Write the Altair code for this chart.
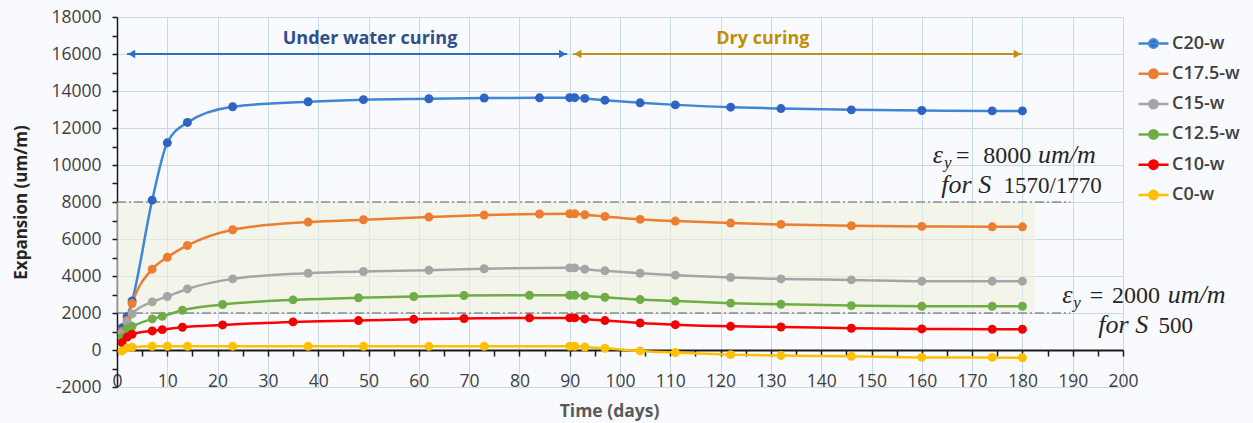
import altair as alt
import pandas as pd

SANS = "Open Sans"
SERIF = "Liberation Serif"

# ---- series -------------------------------------------------------------
series_names = ["C20-w", "C17.5-w", "C15-w", "C12.5-w", "C10-w", "C0-w"]
line_colors = ["#3f87d4", "#ed7d31", "#a5a5a5", "#70ad47", "#ff0000", "#ffc000"]
marker_colors = ["#2f63c4", "#ed7d31", "#a5a5a5", "#70ad47", "#f00000", "#ffc000"]

days_c20 = [1, 2, 3, 7, 10, 14, 23, 38, 49, 62, 73, 84, 90, 91, 93, 97, 104, 111, 122, 132, 146, 160, 174, 180]
vals_c20 = [1200, 1800, 2650, 8100, 11200, 12300, 13150, 13420, 13530, 13580, 13620, 13630, 13640, 13640,
            13600, 13505, 13360, 13250, 13125, 13050, 12980, 12945, 12925, 12925]

days_c175 = [1, 2, 3, 7, 10, 14, 23, 38, 49, 62, 73, 84, 90, 91, 93, 97, 104, 111, 122, 132, 146, 160, 174, 180]
vals_c175 = [1000, 1600, 2510, 4370, 5010, 5650, 6500, 6915, 7040, 7185, 7295, 7350, 7365, 7365,
             7310, 7220, 7060, 6970, 6860, 6790, 6715, 6680, 6660, 6660]

days_c15 = [1, 2, 3, 7, 10, 14, 23, 38, 49, 62, 73, 90, 91, 93, 97, 104, 111, 122, 132, 146, 160, 174, 180]
vals_c15 = [900, 1500, 1950, 2600, 2890, 3300, 3845, 4150, 4245, 4315, 4390, 4440, 4440,
            4370, 4280, 4150, 4045, 3920, 3840, 3790, 3720, 3720, 3720]

days_c125 = [1, 2, 3, 7, 9, 13, 21, 35, 48, 59, 69, 82, 90, 91, 93, 97, 104, 111, 122, 132, 146, 160, 174, 180]
vals_c125 = [700, 1150, 1280, 1680, 1820, 2150, 2460, 2710, 2820, 2890, 2945, 2960, 2960, 2960,
             2925, 2850, 2725, 2650, 2530, 2470, 2400, 2365, 2365, 2365]

days_c10 = [1, 2, 3, 7, 9, 13, 21, 35, 48, 59, 69, 82, 90, 91, 93, 97, 104, 111, 122, 132, 146, 160, 174, 180]
vals_c10 = [400, 700, 850, 1030, 1100, 1230, 1355, 1520, 1590, 1660, 1700, 1735, 1735, 1735,
            1680, 1590, 1460, 1370, 1280, 1245, 1175, 1140, 1120, 1120]

days_c0 = [1, 2, 3, 7, 10, 14, 23, 38, 49, 62, 73, 90, 91, 93, 97, 104, 111, 122, 132, 146, 160, 174, 180]
vals_c0 = [-50, 100, 150, 200, 200, 200, 200, 200, 200, 200, 200, 200, 200,
           160, 90, -50, -140, -250, -300, -340, -400, -400, -420]

# ---- reference levels and curing phases ---------------------------------
band_days = [0, 182.5]
band_levels = [2000, 8000]
limit_levels = [8000, 2000]
limit_days = [0, 189.5]

phase_labels = ["Under water curing", "Dry curing"]
phase_colors = ["#2e6fc0", "#c0901c"]
phase_text_colors = ["#2f4f8c", "#bf8f00"]
phase_start = [2.0, 90.7]
phase_end = [89.5, 179.9]
phase_level = 16000
phase_label_day = [50.3, 128.4]
phase_label_level = 16800

x_ticks = list(range(0, 201, 5))
y_ticks = list(range(-2000, 18001, 1000))

rows = []
for name, days, vals in [
    ("C20-w", days_c20, vals_c20),
    ("C17.5-w", days_c175, vals_c175),
    ("C15-w", days_c15, vals_c15),
    ("C12.5-w", days_c125, vals_c125),
    ("C10-w", days_c10, vals_c10),
    ("C0-w", days_c0, vals_c0),
]:
    for d, v in zip(days, vals):
        rows.append({"day": d, "value": v, "series": name})
curves = pd.DataFrame(rows)

x_scale = alt.Scale(domain=[0, 200], nice=False, zero=False)
y_scale = alt.Scale(domain=[-2000, 18000], nice=False, zero=False)

x_enc = alt.X(
    "day:Q",
    scale=x_scale,
    axis=alt.Axis(
        values=x_ticks,
        labelExpr="datum.value % 10 === 0 ? '' + datum.value : ''",
        labelOverlap=False,
        labelFlush=False,
        offset=-37,
        domainColor="#1a1a1a",
        domainWidth=2,
        tickColor="#1a1a1a",
        tickWidth=1.5,
        tickSize=6,
        labelPadding=16,
        labelFont=SANS,
        labelFontSize=17.5,
        labelColor="#404040",
        gridColor="#c9d9ec",
        gridWidth=1,
        gridOpacity=alt.condition("datum.value % 10 === 0", alt.value(1), alt.value(0)),
        title="Time (days)",
        titleFont=SANS,
        titleFontSize=17.5,
        titleFontWeight="bold",
        titleColor="#595959",
        titlePadding=13,
        titleX=492,
    ),
)

y_enc = alt.Y(
    "value:Q",
    scale=y_scale,
    axis=alt.Axis(
        values=y_ticks,
        labelExpr="datum.value % 2000 === 0 ? '' + datum.value : ''",
        labelOverlap=False,
        labelFlush=False,
        domainColor="#1a1a1a",
        domainWidth=1.5,
        tickColor="#1a1a1a",
        tickWidth=1.5,
        tickSize=5,
        labelPadding=11,
        labelFont=SANS,
        labelFontSize=17.5,
        labelColor="#404040",
        gridColor="#c9d9ec",
        gridWidth=1,
        gridOpacity=alt.condition("datum.value % 2000 === 0", alt.value(1), alt.value(0)),
        title="Expansion (um/m)",
        titleFont=SANS,
        titleFontSize=17,
        titleFontWeight="bold",
        titleColor="#262626",
        titlePadding=20,
    ),
)

# shaded zone between the two yield strains
band = alt.Chart(
    pd.DataFrame({"day": [band_days[0]], "day_end": [band_days[1]],
                  "value": [band_levels[0]], "value_end": [band_levels[1]]})
).mark_rect(color="#eef1dc", opacity=0.55).encode(x=x_enc, x2="day_end:Q", y=y_enc, y2="value_end:Q")

limits = alt.Chart(
    pd.DataFrame({"day": [limit_days[0]] * 2, "day_end": [limit_days[1]] * 2, "value": limit_levels})
).mark_rule(color="#5f5f5f", strokeWidth=1.2, strokeDash=[9, 3, 2, 3]).encode(
    x=x_enc, x2="day_end:Q", y=y_enc
)

SYMBOL = "M-1,0H1M-0.28,0A0.28,0.28,0,1,1,0.28,0A0.28,0.28,0,1,1,-0.28,0Z"


def series_legend():
    return alt.Legend(
        title=None,
        orient="none",
        legendX=1020,
        legendY=10,
        padding=0,
        symbolType=SYMBOL,
        symbolSize=900,
        symbolStrokeWidth=2.5,
        labelFont=SANS,
        labelFontSize=18,
        labelFontWeight=600,
        labelColor="#404040",
        labelOffset=2,
        rowPadding=4.3,
    )


lines = alt.Chart(curves).mark_line(interpolate="monotone", strokeWidth=2.5).encode(
    x=x_enc,
    y=y_enc,
    stroke=alt.Stroke("series:N", scale=alt.Scale(domain=series_names, range=line_colors),
                      legend=series_legend()),
)

points = alt.Chart(curves).mark_circle(size=80, opacity=1).encode(
    x=x_enc,
    y=y_enc,
    fill=alt.Fill("series:N", scale=alt.Scale(domain=series_names, range=marker_colors),
                  legend=series_legend()),
)

# curing-phase arrows and captions
layers = [band, limits, lines, points]
for i in range(2):
    seg = pd.DataFrame({"day": [phase_start[i]], "day_end": [phase_end[i]], "value": [phase_level]})
    layers.append(
        alt.Chart(seg).mark_rule(color=phase_colors[i], strokeWidth=2).encode(x=x_enc, x2="day_end:Q", y=y_enc)
    )
    heads = pd.DataFrame({"day": [phase_start[i] + 0.9], "value": [phase_level]})
    layers.append(
        alt.Chart(heads).mark_point(shape="triangle-left", filled=True, size=70, opacity=1,
                                    color=phase_colors[i]).encode(x=x_enc, y=y_enc)
    )
    heads_r = pd.DataFrame({"day": [phase_end[i] - 0.9], "value": [phase_level]})
    layers.append(
        alt.Chart(heads_r).mark_point(shape="triangle-right", filled=True, size=70, opacity=1,
                                      color=phase_colors[i]).encode(x=x_enc, y=y_enc)
    )
    cap = pd.DataFrame({"day": [phase_label_day[i]], "value": [phase_label_level], "label": [phase_labels[i]]})
    layers.append(
        alt.Chart(cap).mark_text(font=SANS, fontSize=18, fontWeight="bold", color=phase_text_colors[i],
                                 baseline="middle", align="center").encode(x=x_enc, y=y_enc, text="label:N")
    )

# yield-strain notes: (text, day, level, style)
note_pieces = [
    ("ε", 162.2, 10110, "sym"),
    ("y", 164.4, 9840, "sub"),
    ("=", 166.8, 10110, "num"),
    ("8000", 172.2, 10110, "num"),
    ("um/m", 183.1, 10110, "sym"),
    ("for S", 173.8, 8485, "symr"),
    ("1570/1770", 195.8, 8485, "numr"),
    ("ε", 187.9, 2529, "sym"),
    ("y", 190.1, 2258, "sub"),
    ("=", 193.4, 2529, "num"),
    ("2000", 197.8, 2529, "num"),
    ("um/m", 208.9, 2529, "sym"),
    ("for S", 205.0, 904, "symr"),
    ("500", 213.9, 904, "numr"),
]
styles = {
    "sym": dict(font=SERIF, fontStyle="italic", fontSize=26, align="left"),
    "symr": dict(font=SERIF, fontStyle="italic", fontSize=26, align="right"),
    "sub": dict(font=SERIF, fontStyle="italic", fontSize=17, align="left"),
    "num": dict(font=SERIF, fontSize=24, align="left"),
    "numr": dict(font=SERIF, fontSize=23, align="right"),
}
for style, kw in styles.items():
    sub = [p for p in note_pieces if p[3] == style]
    df = pd.DataFrame({"label": [p[0] for p in sub], "day": [p[1] for p in sub], "value": [p[2] for p in sub]})
    layers.append(
        alt.Chart(df).mark_text(baseline="alphabetic", color="#262626", **kw).encode(
            x=x_enc, y=y_enc, text="label:N"
        )
    )

chart = alt.layer(*layers).properties(
    width=1006,
    height=370,
    autosize=alt.AutoSizeParams(type="none"),
    padding={"left": 117, "top": 17, "right": 130, "bottom": 36},
    background="#f8fafd",
).configure_view(stroke=None, fill="#f8fafd")

chart.save("out.html", embed_options={"renderer": "svg", "actions": False})
